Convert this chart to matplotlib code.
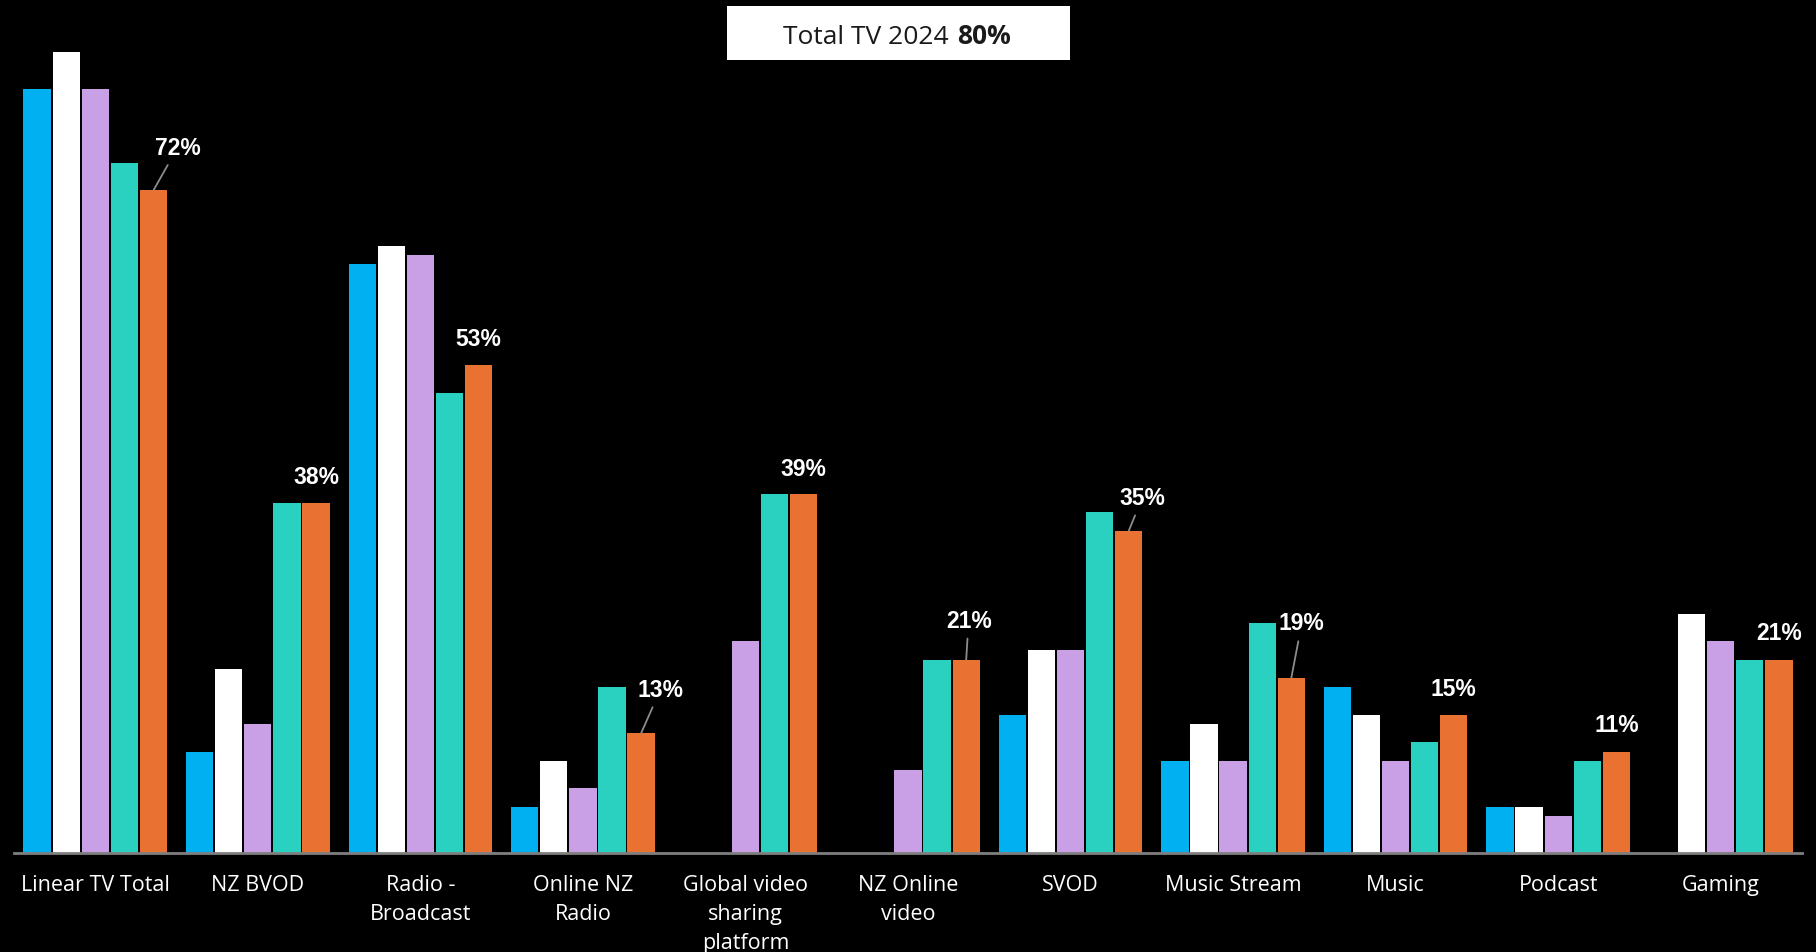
import matplotlib
matplotlib.use("Agg")
import matplotlib.pyplot as plt
from matplotlib.patches import Rectangle
import numpy as np

# media categories and the five survey waves (oldest -> newest)
categories = ["Linear TV Total", "NZ BVOD", "Radio -\nBroadcast", "Online NZ\nRadio",
              "Global video\nsharing\nplatform", "NZ Online\nvideo", "SVOD",
              "Music Stream", "Music", "Podcast", "Gaming"]
nan = np.nan
wave1 = [83, 11, 64, 5, nan, nan, 15, 10, 18, 5, nan]
wave2 = [87, 20, 66, 10, nan, nan, 22, 14, 15, 5, 26]
wave3 = [83, 14, 65, 7, 23, 9, 22, 10, 10, 4, 23]
wave4 = [75, 38, 50, 18, 39, 21, 37, 25, 12, 10, 21]
wave5 = [72, 38, 53, 13, 39, 21, 35, 19, 15, 11, 21]
series = [wave1, wave2, wave3, wave4, wave5]
colors = ["#00B0F0", "#FFFFFF", "#C9A0E6", "#2BD1C0", "#E97132"]

# label offsets for latest wave (dx in category units, dy in % points, leader line?)
label_offsets = [(0.15, 4.7, True), (0, 2.9, False), (0, 2.9, False), (0.12, 4.8, True),
                 (0, 2.8, False), (0.015, 4.3, True), (0.085, 3.65, True), (0.065, 6.0, True),
                 (0, 2.9, False), (0, 2.9, False), (0, 2.9, False)]

total_tv_label = "Total TV 2024"
total_tv_value = "80%"

fig = plt.figure(figsize=(18.16, 9.53), dpi=100, facecolor="black")
ax = fig.add_axes([0.0077, 0.104, 0.9846, 0.896])
ax.set_facecolor("black")

x = np.arange(len(categories))
step = 0.179
width = 0.168
for i, (vals, c) in enumerate(zip(series, colors)):
    ax.bar(x + (i - 2) * step, vals, width, color=c, edgecolor=c, linewidth=0)

for xi, v, (dx, dy, leader) in zip(x, wave5, label_offsets):
    bx = xi + 2 * step
    if leader:
        ax.annotate(f"{v:.0f}%", xy=(bx, v), xytext=(bx + dx, v + dy),
                    ha="center", va="center", color="white", fontsize=16.5,
                    fontweight="bold", family="Liberation Sans",
                    arrowprops=dict(arrowstyle="-", color="#8c8c8c", lw=1.3,
                                    shrinkA=3, shrinkB=0))
    else:
        ax.text(bx + dx, v + dy, f"{v:.0f}%", ha="center", va="center",
                color="white", fontsize=16.5, fontweight="bold", family="Liberation Sans")

ax.set_xlim(-0.5, len(categories) - 0.5)
ax.set_ylim(0, 92.8)
ax.set_yticks([])
ax.set_xticks(x)
ax.set_xticklabels(categories, color="white", fontsize=15.5, family="Open Sans",
                   linespacing=1.5)
ax.tick_params(axis="x", length=0, pad=15)
for side in ["top", "right", "left"]:
    ax.spines[side].set_visible(False)
ax.spines["bottom"].set_color("#7f7f7f")
ax.spines["bottom"].set_linewidth(2)

# headline box
fig.patches.append(Rectangle((727 / 1816, 1 - 61 / 953), 343 / 1816, 54 / 953,
                             transform=fig.transFigure, facecolor="white",
                             edgecolor="none"))
fig.text(949 / 1816, 1 - 37 / 953, total_tv_label, ha="right", va="center",
         fontsize=19, family="Open Sans", color="#1a1a1a")
fig.text(957 / 1816, 1 - 37 / 953, total_tv_value, ha="left", va="center",
         fontsize=19, family="Open Sans", fontweight="bold", color="#1a1a1a")

fig.savefig("out.png", dpi=100, facecolor="black")
